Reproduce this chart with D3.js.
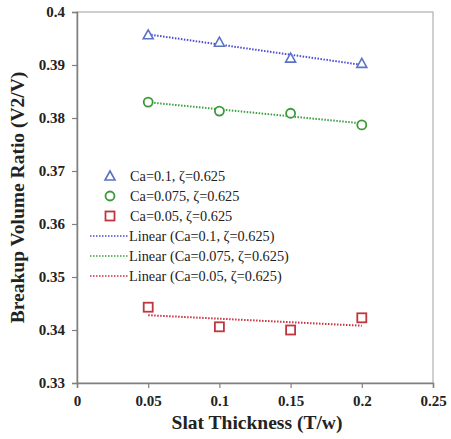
<!DOCTYPE html>
<html>
<head>
<meta charset="utf-8">
<script src="https://cdn.jsdelivr.net/npm/d3@7"></script>
<style>
  body { margin: 0; background: #fff; }
  text { font-family: "Liberation Serif", "Times New Roman", serif; }
</style>
</head>
<body>
<svg width="451" height="439"></svg>
<script>
var thickness = [0.05, 0.1, 0.15, 0.2]
var ca01 = [0.3957, 0.3943, 0.3913, 0.3903]
var ca0075 = [0.3830, 0.3813, 0.3809, 0.3787]
var ca005 = [0.3443, 0.3406, 0.3400, 0.3423]
var xTicks = [0, 0.05, 0.1, 0.15, 0.2, 0.25]
var yTicks = [0.33, 0.34, 0.35, 0.36, 0.37, 0.38, 0.39, 0.4]
var seriesNames = ["Ca=0.1, ζ=0.625", "Ca=0.075, ζ=0.625", "Ca=0.05, ζ=0.625"]

var series = [
  { name: seriesNames[0], values: ca01, shape: "triangle", color: "#5b73c4", line: "#4a4ad8" },
  { name: seriesNames[1], values: ca0075, shape: "circle", color: "#3a9a3a", line: "#3aa040" },
  { name: seriesNames[2], values: ca005, shape: "square", color: "#c0363f", line: "#cc3040" }
]

var svg = d3.select("svg")
var x = d3.scaleLinear().domain([0, 0.25]).range([77, 433])
var y = d3.scaleLinear().domain([0.33, 0.4]).range([383, 12])

// frame (top / right)
svg.append("rect")
  .attr("x", x(0)).attr("y", y(0.4))
  .attr("width", x(0.25) - x(0)).attr("height", y(0.33) - y(0.4))
  .attr("fill", "none").attr("stroke", "#a0a0a0").attr("stroke-width", 1)

var xAxis = svg.append("g")
  .attr("transform", "translate(0," + y(0.33) + ")")
  .call(d3.axisBottom(x).tickValues(xTicks).tickSize(5).tickFormat(d3.format("")))
var yAxis = svg.append("g")
  .attr("transform", "translate(" + x(0) + ",0)")
  .call(d3.axisLeft(y).tickValues(yTicks).tickSize(5).tickFormat(d3.format("")))

;[xAxis, yAxis].forEach(function (a) {
  a.select(".domain").attr("stroke", "#808080").attr("stroke-width", 1.5)
  a.selectAll(".tick line").attr("stroke", "#808080").attr("stroke-width", 1.2)
  a.selectAll(".tick text")
    .attr("fill", "#222")
    .style("font-family", "'Liberation Serif', serif")
    .style("font-weight", "600")
    .style("font-size", "15px")
})
xAxis.selectAll(".tick text").attr("dy", "1em")
yAxis.selectAll(".tick text").attr("x", -12)

// trend lines (least squares fit of each series)
function fit(vals) {
  var mx = d3.mean(thickness), my = d3.mean(vals)
  var sxy = d3.sum(thickness, function (t, i) { return (t - mx) * (vals[i] - my) })
  var sxx = d3.sum(thickness, function (t) { return (t - mx) * (t - mx) })
  var b = sxy / sxx
  return function (t) { return my + b * (t - mx) }
}

series.forEach(function (s) {
  var f = fit(s.values)
  svg.append("line")
    .attr("x1", x(thickness[0])).attr("y1", y(f(thickness[0])))
    .attr("x2", x(thickness[3])).attr("y2", y(f(thickness[3])))
    .attr("stroke", s.line).attr("stroke-width", 2)
    .attr("stroke-dasharray", "1.5,1.5")
})

function drawMarker(g, shape, cx, cy, color) {
  if (shape == "triangle") {
    g.append("path")
      .attr("d", "M" + cx + "," + (cy - 5) + "L" + (cx + 5) + "," + (cy + 4) + "L" + (cx - 5) + "," + (cy + 4) + "Z")
      .attr("fill", "#fff").attr("stroke", color).attr("stroke-width", 1.6)
  } else if (shape == "circle") {
    g.append("circle").attr("cx", cx).attr("cy", cy).attr("r", 4.5)
      .attr("fill", "#fff").attr("stroke", color).attr("stroke-width", 1.8)
  } else {
    g.append("rect").attr("x", cx - 4.5).attr("y", cy - 4.5).attr("width", 9).attr("height", 9)
      .attr("fill", "#fff").attr("stroke", color).attr("stroke-width", 1.8)
  }
}

var marks = svg.append("g")
series.forEach(function (s) {
  s.values.forEach(function (v, i) {
    drawMarker(marks, s.shape, x(thickness[i]), y(v), s.color)
  })
})

// legend
var legend = svg.append("g")
var rowY = 176
series.forEach(function (s, i) {
  drawMarker(legend, s.shape, 110, rowY + i * 20, s.color)
  legend.append("text").attr("x", 130).attr("y", rowY + i * 20 + 5)
    .attr("font-size", "14.3px").attr("fill", "#222").text(s.name)
})
series.forEach(function (s, i) {
  var ly = rowY + (i + 3) * 20
  legend.append("line").attr("x1", 90).attr("x2", 128).attr("y1", ly).attr("y2", ly)
    .attr("stroke", s.line).attr("stroke-width", 1.5).attr("stroke-dasharray", "1.5,1.5")
  legend.append("text").attr("x", 129).attr("y", ly + 5)
    .attr("font-size", "14.3px").attr("fill", "#222").text("Linear (" + s.name + ")")
})

// axis titles
svg.append("text")
  .attr("x", (x(0) + x(0.25)) / 2 + 2).attr("y", 429)
  .attr("text-anchor", "middle")
  .attr("font-size", "19.5px").attr("font-weight", "bold").attr("fill", "#222")
  .text("Slat Thickness (T/w)")

svg.append("text")
  .attr("transform", "translate(24," + ((y(0.33) + y(0.4)) / 2) + ") rotate(-90)")
  .attr("text-anchor", "middle")
  .attr("font-size", "19.5px").attr("font-weight", "bold").attr("fill", "#222")
  .text("Breakup Volume Ratio (V2/V)")
</script>
</body>
</html>
